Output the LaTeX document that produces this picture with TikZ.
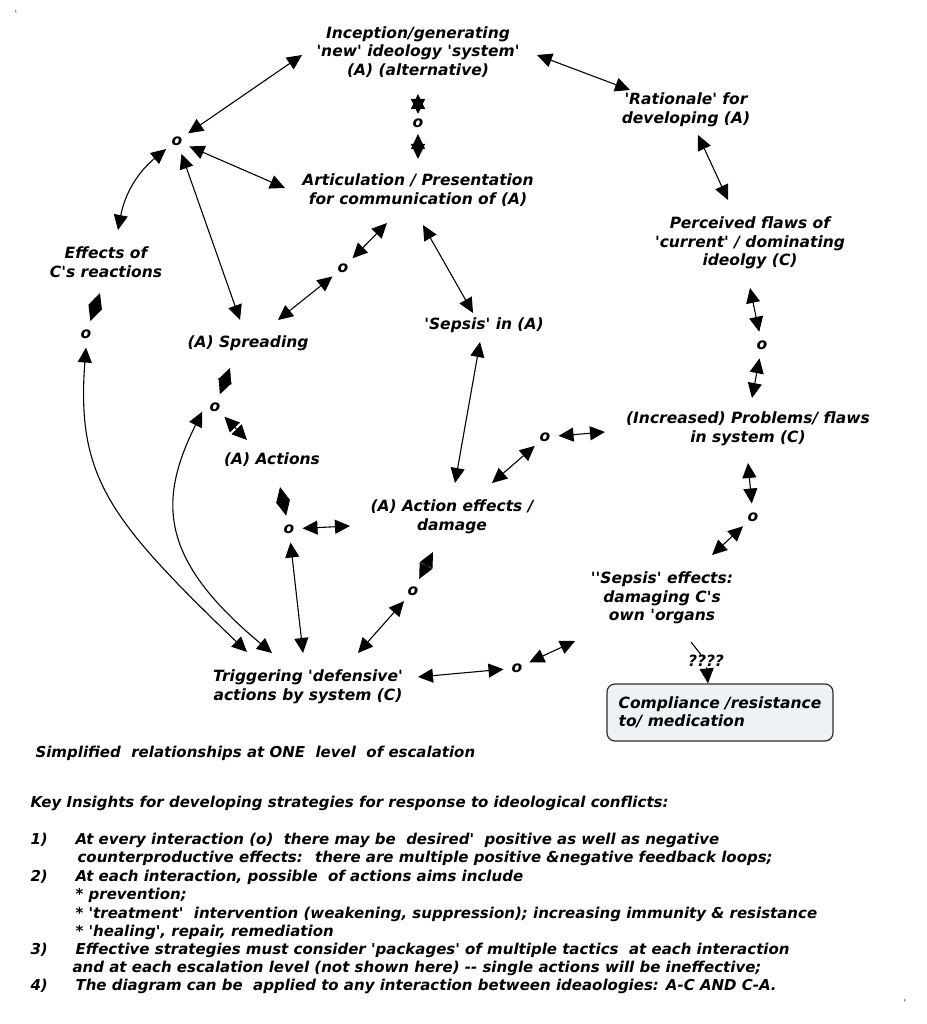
\documentclass[tikz,border=0pt]{standalone}
\usepackage{fontspec}
\newfontfamily\diafont{DejaVu Sans}[Ligatures=TeXOff]
\usetikzlibrary{arrows.meta}
\usetikzlibrary{calc}
\definecolor{boxfill}{RGB}{237,243,245}
\definecolor{boxline}{RGB}{45,45,45}

\begin{document}
\begin{tikzpicture}[x=1pt, y=-1pt,
                    every node/.append style={font=\diafont\bfseries\itshape\fontsize{15.5}{18.5}\selectfont},
                    stage/.style={align=center, inner sep=0pt},
                    hub/.style={circle, minimum size=26pt, inner sep=0pt},
                    notetext/.style={anchor=west, inner sep=0pt, font=\diafont\bfseries\itshape\fontsize{15}{18}\selectfont},
                    medbox/.style={rectangle, rounded corners=8pt, draw=boxline, fill=boxfill, line width=1.2pt,
                                   minimum height=57pt, minimum width=226pt, align=left},
                    link/.style={<->},
                    every path/.append style={line width=1.1pt},
                    >={Triangle[length=15pt,width=14pt]}]
    \useasboundingbox (0,0) rectangle (926,1024);

    % Stages of the cycle
    \node [stage] (inception)    at (418,52)  {Inception/generating\\'new' ideology 'system'\\(A) (alternative)};
    \node [stage] (rationale)    at (686,110) {'Rationale' for\\developing (A)};
    \node [stage] (articulation) at (418,190) {Articulation / Presentation\\for communication of (A)};
    \node [stage] (perceived)    at (750,243) {Perceived flaws of\\'current' / dominating\\ideolgy (C)};
    \node [stage] (effects)      at (106,262) {Effects of\\C's reactions};
    \node [stage] (spreading)    at (248,343) {(A) Spreading};
    \node [stage] (sepsis_a)     at (484,325) {'Sepsis' in (A)};
    \node [stage] (problems)     at (748,429) {(Increased) Problems/ flaws\\in system (C)};
    \node [stage] (actions)      at (272,460) {(A) Actions};
    \node [stage] (damage)       at (452,517) {(A) Action effects /\\damage};
    \node [stage] (sepsis_c)     at (662,598) {''Sepsis' effects:\\damaging C's\\own 'organs};
    \node [stage] (triggering)   at (308,687) {Triggering 'defensive'\\actions by system (C)};
    \node [medbox] (compliance)  at (720,712.5) {Compliance /resistance\\to/ medication};
    \node [stage] (qmarks)       at (706,661) {????};

    % Interaction points
    \node [hub] (o_hub) at (177,141) {o};
    \node [hub] (o_gen) at (418,123) {o};
    \node [hub] (o_art) at (343,268) {o};
    \node [hub] (o_eff) at (86,334)  {o};
    \node [hub] (o_spr) at (215,407) {o};
    \node [hub] (o_act) at (289,529) {o};
    \node [hub] (o_dmg) at (413,591) {o};
    \node [hub] (o_trg) at (517,668) {o};
    \node [hub] (o_flw) at (762,345) {o};
    \node [hub] (o_sys) at (753,517) {o};
    \node [hub] (o_prb) at (545,437) {o};

    % Stray marks of the scan
    \node [font=\diafont\fontsize{8}{8}\selectfont] (mark_tl) at (16,14)   {'};
    \node [font=\diafont\fontsize{8}{8}\selectfont] (mark_br) at (905,1003) {'};

    % Notes below the diagram
    \node [notetext] (simplified) at (35,753) {Simplified~ relationships at ONE~ level~ of escalation};
    \node [notetext] (insights)   at (30,803) {Key Insights for developing strategies for response to ideological conflicts:};
    \node [notetext] (num_1)  at (30,840) {1)};
    \node [notetext] (item_1) at (75,840) {At every interaction (o)~ there may be~ desired'~ positive as well as negative};
    \node [notetext] (cont_1) at (77,858) {counterproductive effects:~ there are multiple positive \&negative feedback loops;};
    \node [notetext] (num_2)  at (30,877) {2)};
    \node [notetext] (item_2) at (75,877) {At each interaction, possible~ of actions aims include};
    \node [notetext] (aim_a)  at (75,895) {* prevention;};
    \node [notetext] (aim_b)  at (75,914) {* 'treatment'~ intervention (weakening, suppression); increasing immunity \& resistance};
    \node [notetext] (aim_c)  at (75,932) {* 'healing', repair, remediation};
    \node [notetext] (num_3)  at (30,950) {3)};
    \node [notetext] (item_3) at (75,950) {Effective strategies must consider 'packages' of multiple tactics~ at each interaction};
    \node [notetext] (cont_3) at (72,968) {and at each escalation level (not shown here) -{}- single actions will be ineffective;};
    \node [notetext] (num_4)  at (30,986) {4)};
    \node [notetext] (item_4) at (75,986) {The diagram can be~ applied to any interaction between ideaologies: A-C AND C-A.};

    % Connectors around the hub
    \draw [link] (o_hub) -- ($(inception)+(-116,3)$);
    \draw [link] (o_hub) -- ($(articulation)+(-133,-2)$);
    \draw [link] (o_hub) -- ($(spreading)+(-8,-23)$);
    \draw [link] (o_hub) to[bend right=20] ($(effects)+(12,-32)$);
    % Upper cycle
    \draw [link] ($(inception)+(119,3)$)  -- ($(rationale)+(-56,-20)$);
    \draw [link] ($(rationale)+(12,25)$)  -- ($(perceived)+(-22,-43)$);
    \draw [link] ($(perceived)+(0,45)$)   -- (o_flw);
    \draw [link] (o_flw)                  -- ($(problems)+(4,-31)$);
    \draw [link] ($(problems)+(0,34)$)    -- (o_sys);
    \draw [link] (o_sys)                  -- ($(sepsis_c)+(50,-43)$);
    \draw [link] (o_prb)                  -- ($(problems)+(-143,3)$);
    \draw [link] (o_prb)                  -- ($(damage)+(40,-34)$);
    \draw [link] ($(inception)+(0,42)$)   -- ($(o_gen)+(0,-9)$);
    \draw [link] ($(o_gen)+(0,11)$)       -- ($(articulation)+(0,-31)$);
    % Middle
    \draw [link] ($(articulation)+(5,35)$)   -- ($(sepsis_a)+(-11,-12)$);
    \draw [link] ($(sepsis_a)+(-4,17)$)      -- ($(damage)+(3,-34)$);
    \draw [link] ($(articulation)+(-31,33)$) -- (o_art);
    \draw [link] (o_art)                     -- ($(spreading)+(30,-23)$);
    \draw [link] ($(spreading)+(-18,25)$)    -- (o_spr);
    \draw [link] (o_spr)                     -- ($(actions)+(-25,-20)$);
    \draw [link] ($(actions)+(8,27)$)        -- (o_act);
    \draw [link] (o_act)                     -- ($(damage)+(-102,9)$);
    \draw [link] (o_act)                     -- ($(triggering)+(-5,-34)$);
    \draw [link] ($(damage)+(-19,35)$)       -- (o_dmg);
    \draw [link] (o_dmg)                     -- ($(triggering)+(50,-34)$);
    % Left side feedback
    \draw [link] ($(effects)+(-6,31)$) -- (o_eff);
    \draw [link] (o_eff.south) .. controls +(-10,130) and +(-137,-132) .. ($(triggering)+(-61,-35)$);
    \draw [link] (o_spr.200) .. controls +(-45,90) and +(-112,-93) .. ($(triggering)+(-36,-34)$);
    % Lower right
    \draw [link] ($(triggering)+(110,-10)$) -- (o_trg);
    \draw [link] (o_trg)                    -- ($(sepsis_c)+(-87,43)$);
    \draw ($(sepsis_c)+(29,44)$) -- (qmarks);
    \draw [->] (qmarks) -- ([xshift=-12pt]compliance.north);
\end{tikzpicture}
\end{document}
